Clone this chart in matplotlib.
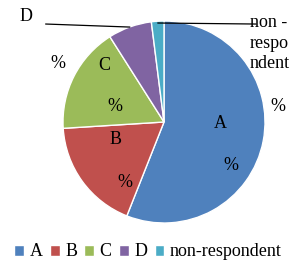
import matplotlib.pyplot as plt

# data
categories = ['A', 'B', 'C', 'D', 'non-respondent']
values = [56, 18, 17, 7, 2]
colors = ['#4F81BD', '#C0504D', '#9BBB59', '#8064A2', '#4BACC6']

# label texts (the numbers are missing in the original, only "%")
name_labels = ['A', 'B', 'C', 'D', 'non -\nrespo\nndent']
name_pos = [(0.56, -0.01), (-0.48, -0.17), (-0.59, 0.56), (-1.37, 1.04), (0.85, 0.78)]
pct_pos = [(0.66, -0.43), (-0.39, -0.60), (-0.49, 0.15), (-1.05, 0.58), (1.13, 0.15)]

plt.rcParams['font.family'] = ['Liberation Serif', 'DejaVu Serif']
fs = 13

fig = plt.figure(figsize=(2.92, 2.61), dpi=100)
ax = fig.add_axes([63 / 292, 38 / 261, 202 / 292, 202 / 261])

wedges, _ = ax.pie(values, colors=colors, startangle=90, counterclock=False,
                   radius=1, wedgeprops=dict(edgecolor='white', linewidth=1))
ax.set_xlim(-1, 1)
ax.set_ylim(-1, 1)
ax.axis('off')

for i, lab in enumerate(name_labels):
    if i == 4:
        ax.text(name_pos[i][0], name_pos[i][1], lab, ha='left', va='center',
                fontsize=fs, linespacing=1.25, clip_on=False)
    else:
        ax.text(name_pos[i][0], name_pos[i][1], lab, ha='center', va='center',
                fontsize=fs, clip_on=False)
    ax.text(pct_pos[i][0], pct_pos[i][1], '%', ha='center', va='center',
            fontsize=fs, clip_on=False)

# leader lines for D and non-respondent
ax.plot([-1.17, -0.34], [0.97, 0.94], color='black', lw=0.9, clip_on=False)
ax.plot([-0.06, 0.91], [0.98, 0.97], color='black', lw=0.9, clip_on=False)

fig.legend(wedges, categories, loc='center', bbox_to_anchor=(148 / 292, 9 / 261),
           ncol=5, frameon=False, fontsize=fs, handlelength=0.55, handleheight=0.55,
           handletextpad=0.3, columnspacing=0.4, borderpad=0, borderaxespad=0)

fig.savefig('out.png', dpi=100)
